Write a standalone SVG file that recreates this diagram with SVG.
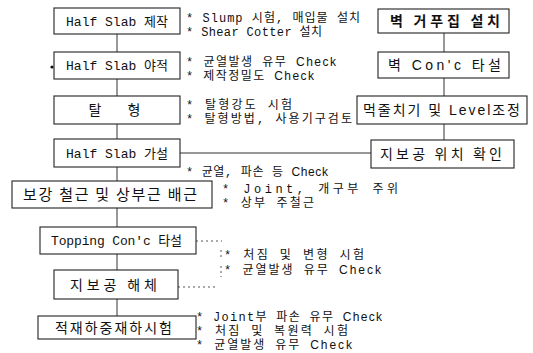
<svg xmlns="http://www.w3.org/2000/svg" width="533" height="353" viewBox="0 0 533 353">
<style>
.box{fill:#fff;stroke:#222;stroke-width:1.1}
.m{font-family:"Liberation Mono","Noto Sans CJK KR",monospace;font-size:13px;fill:#111}
.a{font-family:"Liberation Mono","Noto Sans CJK KR",monospace;font-size:12px;fill:#111}
.s{font-family:"Liberation Sans","Noto Sans CJK KR",sans-serif;fill:#111}
.k{font-family:"Noto Sans CJK KR",sans-serif;fill:#111}
.c{font-family:"Liberation Sans",sans-serif}
.ln{stroke:#333;stroke-width:1;fill:none}
.dt{stroke:#555;stroke-width:1;fill:none;stroke-dasharray:2 3}
</style>
<rect width="533" height="353" fill="#fff"/>
<g id="connectors">
<path class="ln" d="M117 34V52M117 79V96M117 124V139M117 167V181M117 208V227M117 254V270M117 299V316"/>
<path class="ln" d="M444 33V52M444 78V96M444 124V140"/>
<path class="ln" d="M180 153H371"/>
<path class="dt" d="M196 241H222M178 287H216M221 250V260M221 266V277"/>
<circle cx="52" cy="67" r="1.6" fill="#111"/>
</g>
<g id="n1"><rect class="box" x="54" y="8" width="126" height="26"/><text class="m" x="117" y="25.5" text-anchor="middle">Half Slab 제작</text></g>
<g id="n2"><rect class="box" x="54" y="52" width="126" height="27"/><text class="m" x="117" y="70" text-anchor="middle">Half Slab 야적</text></g>
<g id="n3"><rect class="box" x="54" y="96" width="126" height="28"/><text class="k" font-size="14" x="95" y="115" text-anchor="middle">탈</text><text class="k" font-size="14" x="134" y="115" text-anchor="middle">형</text></g>
<g id="n4"><rect class="box" x="54" y="139" width="126" height="28"/><text class="m" x="117" y="157.5" text-anchor="middle">Half Slab 가설</text></g>
<g id="n5"><rect class="box" x="12" y="181" width="200" height="27"/><text class="k" font-size="15" x="23" y="200" textLength="174" lengthAdjust="spacing">보강 철근 및 상부근 배근</text></g>
<g id="n6"><rect class="box" x="40" y="227" width="156" height="27"/><text class="m" x="51" y="245" textLength="131" lengthAdjust="spacing">Topping Con'c 타설</text></g>
<g id="n7"><rect class="box" x="54" y="270" width="124" height="29"/><text class="k" font-size="14" x="70" y="290" textLength="87" lengthAdjust="spacing">지보공   해체</text></g>
<g id="n8"><rect class="box" x="38" y="316" width="158" height="23"/><text class="k" font-size="14" x="55" y="333" textLength="117" lengthAdjust="spacing">적재하중재하시험</text></g>
<g id="r1"><rect class="box" x="378" y="9" width="131" height="24"/><text class="k" font-size="14" font-weight="bold" x="390" y="26" textLength="110" lengthAdjust="spacing">벽 거푸집 설치</text></g>
<g id="r2"><rect class="box" x="378" y="52" width="131" height="26"/><text class="s" font-size="14" x="388" y="70" textLength="113" lengthAdjust="spacing">벽  Con'c 타설</text></g>
<g id="r3"><rect class="box" x="357" y="96" width="170" height="28"/><text class="s" font-size="14" x="363" y="115" textLength="157" lengthAdjust="spacing">먹줄치기 및 Level조정</text></g>
<g id="r4"><rect class="box" x="371" y="140" width="143" height="28"/><text class="k" font-size="14" x="380" y="159" textLength="122" lengthAdjust="spacing">지보공 위치 확인</text></g>
<g id="notes">
<text class="a" x="186" y="22" textLength="174" lengthAdjust="spacing">* Slump 시험, 매입물 설치</text>
<text class="a" x="186" y="36" textLength="136" lengthAdjust="spacing">* Shear Cotter 설치</text>
<text class="a" x="186" y="66" textLength="150" lengthAdjust="spacing">* 균열발생 유무 <tspan class="c">Check</tspan></text>
<text class="a" x="186" y="80" textLength="128" lengthAdjust="spacing">* 제작정밀도 <tspan class="c">Check</tspan></text>
<text class="a" x="186" y="109" textLength="106" lengthAdjust="spacing">* 탈형강도 시험</text>
<text class="a" x="186" y="123" textLength="166" lengthAdjust="spacing">* 탈형방법, 사용기구검토</text>
<text class="a" x="186" y="176" textLength="142" lengthAdjust="spacing">* 균열, 파손 등 <tspan class="c">Check</tspan></text>
<text class="a" x="222" y="193" textLength="176" lengthAdjust="spacing">* Joint, 개구부 주위</text>
<text class="a" x="222" y="207" textLength="92" lengthAdjust="spacing">* 상부 주철근</text>
<text class="a" x="224" y="259" textLength="140" lengthAdjust="spacing">* 처짐 및 변형 시험</text>
<text class="a" x="224" y="274" textLength="157" lengthAdjust="spacing">* 균열발생 유무 <tspan class="c">Check</tspan></text>
<text class="a" x="196" y="321" textLength="186" lengthAdjust="spacing">* Joint부 파손 유무 <tspan class="c">Check</tspan></text>
<text class="a" x="196" y="335" textLength="152" lengthAdjust="spacing">* 처짐 및 복원력 시험</text>
<text class="a" x="196" y="349" textLength="156" lengthAdjust="spacing">* 균열발생 유무 <tspan class="c">Check</tspan></text>
</g>
</svg>
